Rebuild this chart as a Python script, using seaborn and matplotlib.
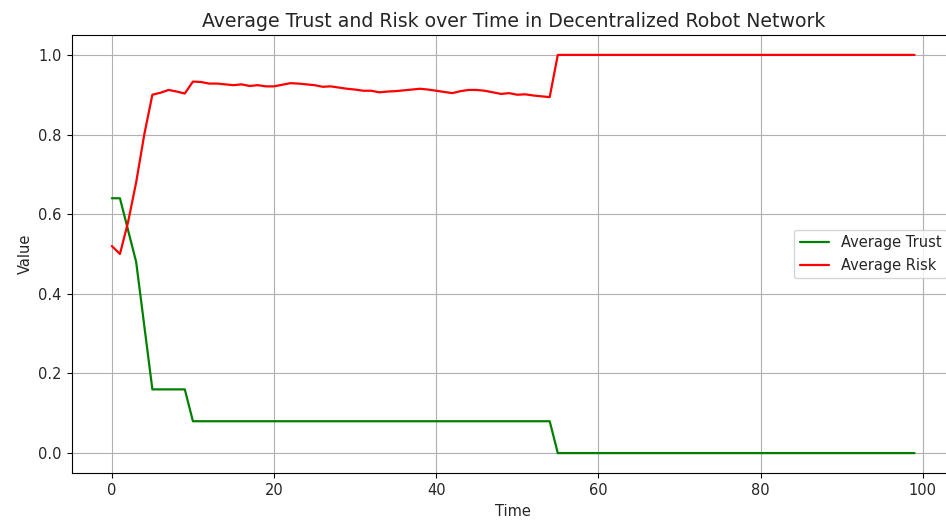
import numpy as np
import pandas as pd
import matplotlib
matplotlib.use("Agg")
import matplotlib.pyplot as plt
import seaborn as sns

time = list(range(100))
avg_trust = ([0.64, 0.64, 0.56, 0.48, 0.32] + [0.16] * 5 + [0.08] * 45 + [0.0] * 45)
avg_risk = [0.52, 0.50, 0.58, 0.68, 0.80, 0.90, 0.905, 0.912, 0.908, 0.903,
            0.933, 0.932, 0.928, 0.928, 0.926, 0.924, 0.926, 0.922, 0.924, 0.921,
            0.921, 0.925, 0.929, 0.928, 0.926, 0.924, 0.920, 0.921, 0.918, 0.915,
            0.913, 0.910, 0.910, 0.906, 0.908, 0.909, 0.911, 0.913, 0.915, 0.913,
            0.910, 0.907, 0.904, 0.909, 0.912, 0.912, 0.910, 0.906, 0.902, 0.904,
            0.900, 0.901, 0.898, 0.896, 0.894] + [1.0] * 45

df = pd.DataFrame({"Time": time, "Average Trust": avg_trust, "Average Risk": avg_risk})

sns.set_style("whitegrid")
plt.rcParams["font.family"] = ["DejaVu Sans"]

fs = 10.5
fig, ax = plt.subplots(figsize=(9.46, 5.23), dpi=100)
sns.lineplot(data=df, x="Time", y="Average Trust", color="green", label="Average Trust", ax=ax, linewidth=1.6)
sns.lineplot(data=df, x="Time", y="Average Risk", color="red", label="Average Risk", ax=ax, linewidth=1.6)

ax.set_title("Average Trust and Risk over Time in Decentralized Robot Network", fontsize=13.6)
ax.set_xlabel("Time", fontsize=fs)
ax.set_ylabel("Value", fontsize=fs)
ax.set_yticks([0.0, 0.2, 0.4, 0.6, 0.8, 1.0])
ax.set_xticks([0, 20, 40, 60, 80, 100])
ax.set_xlim(-4.95, 103.95)
ax.set_ylim(-0.05, 1.05)
for s in ax.spines.values():
    s.set_edgecolor("black")
    s.set_linewidth(0.8)
ax.spines["right"].set_visible(False)
ax.grid(True, color="#b0b0b0", linewidth=0.8)
ax.tick_params(axis="both", which="both", length=3.7, width=0.8, color="black",
               bottom=True, left=True, labelsize=fs)
ax.legend(loc="center right", fontsize=fs)

left, bottom = 71.7 / 946, 50.0 / 523
width = (954.7 - 71.7) / 946
height = (473.0 - 35.0) / 523
ax.set_position([left, bottom, width, height])
fig.savefig("out.png", dpi=100)
